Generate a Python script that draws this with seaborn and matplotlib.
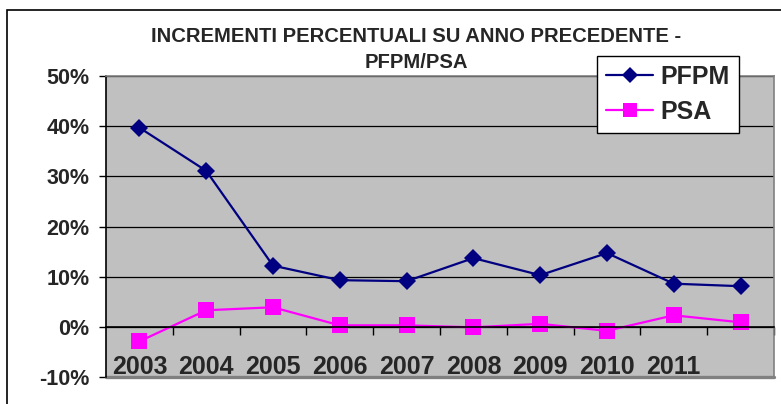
import numpy as np
import pandas as pd
import matplotlib
matplotlib.use("Agg")
import matplotlib.pyplot as plt
import seaborn as sns
from matplotlib.patches import Rectangle

# --- data ---
years = ["2003", "2004", "2005", "2006", "2007", "2008", "2009", "2010", "2011", ""]
pfpm = [39.7, 31.1, 12.2, 9.3, 9.1, 13.7, 10.3, 14.7, 8.6, 8.1]
psa = [-2.9, 3.3, 3.9, 0.3, 0.3, -0.1, 0.6, -0.8, 2.3, 0.9]
y_ticks = [-10, 0, 10, 20, 30, 40, 50]

sns.set_theme(style="white")
plt.rcParams["font.family"] = ["Liberation Sans", "DejaVu Sans"]
plt.rcParams["font.weight"] = "bold"

W, H = 781, 404
fig = plt.figure(figsize=(W / 100, H / 100), dpi=100)
fig.patch.set_facecolor("white")

# outer chart border (continues past the right/bottom edges)
fig.patches.append(Rectangle((7 / W, -0.1), 1.1, 1 - 10 / H + 0.1,
                             transform=fig.transFigure, fill=False,
                             edgecolor="black", linewidth=1.2))

ax = fig.add_axes([106 / W, 1 - 377 / H, (774 - 106) / W, (377 - 76) / H])
ax.set_facecolor("#C0C0C0")

x = np.arange(len(years))
sns.lineplot(x=x, y=pfpm, color="#000080", marker="D", markersize=9,
             markeredgewidth=0, linewidth=1.6, label="PFPM", ax=ax)
sns.lineplot(x=x, y=psa, color="#FF00FF", marker="s", markersize=11.5,
             markeredgewidth=0, linewidth=1.6, label="PSA", ax=ax)

ax.set_xlim(-0.5, len(years) - 0.5)
ax.set_ylim(-10, 50)
ax.set_yticks(y_ticks)
ax.set_yticklabels([f"{v}%" for v in y_ticks])
ax.yaxis.grid(True, color="black", linewidth=0.9)
ax.set_axisbelow(True)

# category labels (inside the plot, near bottom) + boundary ticks on the 0 line
ax.set_xticks(x)
ax.set_xticklabels(years)
ax.set_xticks(np.arange(0.5, len(years), 1), minor=True)
ax.tick_params(axis="x", which="major", length=0, pad=20, labelsize=18)
ax.tick_params(axis="x", which="minor", length=6, width=1, color="black",
               direction="out", bottom=True)
ax.tick_params(axis="y", length=5, width=1, color="black", direction="out",
               left=True, pad=7, labelsize=15.5)
for lab in ax.get_xticklabels() + ax.get_yticklabels():
    lab.set_fontweight("bold")
ax.spines["bottom"].set_position(("data", 0))
ax.spines["bottom"].set_color("black")
ax.spines["left"].set_color("black")
ax.spines["top"].set_color("#808080")
ax.spines["right"].set_color("#808080")
for s in ax.spines.values():
    s.set_linewidth(1.2)
ax.set_xlabel("")
ax.set_ylabel("")
# gray lower frame of the plot area
ax.axhline(-10, color="#808080", linewidth=2.4, clip_on=False)

fig.text(416.5 / W, 1 - 37 / H, "INCREMENTI PERCENTUALI SU ANNO PRECEDENTE -",
         ha="center", va="center", fontsize=14.6, fontweight="bold")
fig.text(416.5 / W, 1 - 62 / H, "PFPM/PSA",
         ha="center", va="center", fontsize=14.6, fontweight="bold")

leg = ax.legend(loc="upper left", bbox_to_anchor=(597 / W, 1 - 56 / H),
                bbox_transform=fig.transFigure, borderaxespad=0,
                prop={"size": 18, "weight": "bold"}, frameon=True,
                fancybox=False, edgecolor="black", framealpha=1,
                handlelength=1.9, handletextpad=0.3, labelspacing=0.45,
                borderpad=0.35, markerscale=0.85)
leg.get_frame().set_linewidth(1.0)

fig.savefig("out.png", dpi=100)
